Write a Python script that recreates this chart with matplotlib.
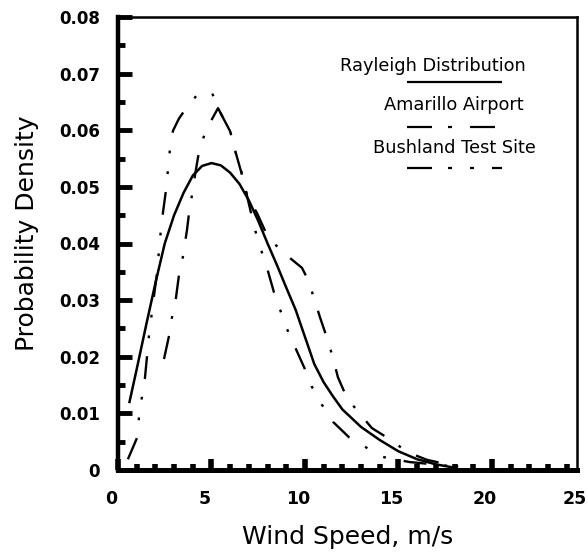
import matplotlib
matplotlib.use("Agg")
import matplotlib.pyplot as plt
from matplotlib.lines import Line2D
from matplotlib.transforms import ScaledTranslation, blended_transform_factory

plt.rcParams['font.family'] = ['DejaVu Sans']
plt.rcParams['lines.scale_dashes'] = False

# ---------------- data ----------------
wind_rayleigh = [0.6, 1.0, 1.5, 2.0, 2.5, 3.0, 3.5, 4.0, 4.5, 5.0, 5.5, 6.0, 6.5, 7.0,
                 7.5, 8.0, 8.5, 9.0, 9.5, 10.0, 10.5, 11.0, 11.5, 12.0, 13.0, 14.0,
                 15.0, 16.0, 17.0, 18.0]
pdf_rayleigh = [0.0118, 0.0178, 0.0255, 0.0330, 0.0400, 0.0450, 0.0489, 0.0520, 0.0537,
                0.0542, 0.0538, 0.0525, 0.0505, 0.0476, 0.0440, 0.0400, 0.0362, 0.0322,
                0.0283, 0.0235, 0.0187, 0.0155, 0.0130, 0.0107, 0.0076, 0.0053, 0.0033,
                0.0019, 0.0010, 0.0004]

wind_amarillo = [2.46, 2.73, 2.89, 3.10, 3.26, 3.48, 3.69, 3.80, 3.96, 4.12, 4.33, 4.65,
                 5.00, 5.35, 6.00, 6.30, 6.60, 6.90, 7.43, 7.97, 8.66, 9.47, 9.84, 10.16,
                 10.48, 10.80, 11.18, 11.50, 11.76, 12.25, 12.89, 13.58, 14.60, 15.45,
                 16.52, 17.33, 18.30]
pdf_amarillo = [0.0196, 0.0237, 0.0270, 0.0304, 0.0344, 0.0378, 0.0424, 0.0454, 0.0486,
                0.0521, 0.0562, 0.0595, 0.0618, 0.0639, 0.0598, 0.0560, 0.0525, 0.0485,
                0.0454, 0.0415, 0.0389, 0.0367, 0.0357, 0.0336, 0.0304, 0.0270, 0.0233,
                0.0198, 0.0164, 0.0127, 0.0101, 0.0074, 0.0053, 0.0032, 0.0018, 0.0012,
                0.0005]

wind_bushland = [0.53, 1.02, 1.12, 1.28, 1.44, 1.66, 1.93, 2.09, 2.25, 2.41, 2.57, 2.78,
                 2.94, 3.25, 3.58, 4.22, 4.65, 5.03, 5.35, 6.00, 6.30, 6.63, 6.95, 7.33,
                 7.65, 7.97, 8.34, 8.66, 9.04, 9.47, 10.00, 10.37, 10.91, 11.50, 12.35,
                 13.21, 14.17, 15.60, 17.20, 18.30]
pdf_bushland = [0.0019, 0.0057, 0.0092, 0.0129, 0.0162, 0.0238, 0.0309, 0.0348, 0.0410,
                0.0456, 0.0495, 0.0567, 0.0599, 0.0620, 0.0636, 0.0662, 0.0668, 0.0666,
                0.0639, 0.0598, 0.0560, 0.0523, 0.0477, 0.0424, 0.0389, 0.0357, 0.0314,
                0.0284, 0.0249, 0.0217, 0.0178, 0.0147, 0.0115, 0.0085, 0.0058, 0.0041,
                0.0023, 0.0014, 0.0009, 0.0005]

x_ticks = [0, 5, 10, 15, 20, 25]
x_tick_labels = ['0', '5', '10', '15', '20', '25']
y_ticks = [0, 0.01, 0.02, 0.03, 0.04, 0.05, 0.06, 0.07, 0.08]
y_tick_labels = ['0', '0.01', '0.02', '0.03', '0.04', '0.05', '0.06', '0.07', '0.08']
series_names = ['Rayleigh Distribution', 'Amarillo Airport', 'Bushland Test Site']

# ---------------- figure ----------------
W, H = 588, 554
fig = plt.figure(figsize=(W / 100, H / 100), dpi=100)
ax = fig.add_axes([118 / W, 1 - 470 / H, (577 - 118) / W, (470 - 17) / H])

ax.plot(wind_rayleigh, pdf_rayleigh, color='black', lw=1.8, solid_capstyle='butt')
ax.plot(wind_amarillo, pdf_amarillo, color='black', lw=1.7,
        dashes=(17, 12.5, 2, 12.5))
ax.plot(wind_bushland, pdf_bushland, color='black', lw=1.7,
        dashes=(16.5, 13, 2, 13, 2, 13))

ax.set_xlim(0, 24.55)
ax.set_ylim(0, 0.08)

ax.set_xticks(x_ticks[:-1])
ax.set_xticks(range(0, 25), minor=True)
ax.set_xticklabels([])
ax.set_yticks(y_ticks)
ax.set_yticks([i * 0.005 for i in range(17)], minor=True)
ax.set_yticklabels(y_tick_labels, fontsize=12, fontweight='bold')

ax.tick_params(axis='both', which='both', direction='in', top=False, right=False,
               color='black')
ax.tick_params(axis='y', which='major', length=10, width=3.5, pad=13)
ax.tick_params(axis='y', which='minor', length=5, width=3.5)
ax.tick_params(axis='x', which='major', length=8, width=4)
ax.tick_params(axis='x', which='minor', length=4, width=4)

ax.spines['left'].set_linewidth(3.2)
ax.spines['bottom'].set_linewidth(3.6)
ax.spines['top'].set_linewidth(1.8)
ax.spines['right'].set_linewidth(1.8)

# x tick labels (drawn as text, slightly left of the ticks as in the scan)
trans = blended_transform_factory(ax.transData, ax.transAxes) + \
    ScaledTranslation(-7 / 100, 0, fig.dpi_scale_trans)
for xv, lab in zip(x_ticks[:-1], x_tick_labels[:-1]):
    ax.text(xv, -0.045, lab, transform=trans, ha='center', va='top',
            fontsize=12.5, fontweight='bold', clip_on=False)
# last label sits at the right edge of the picture
fig.text(587 / W, 1 - (470 + 0.045 * 453) / H, x_tick_labels[-1], ha='right', va='top',
         fontsize=12.5, fontweight='bold')

# axis titles
fig.text(348 / W, 1 - 537 / H, 'Wind Speed, m/s', ha='center', va='center', fontsize=18)
fig.text(27 / W, 1 - 233 / H, 'Probability Density', ha='center', va='center',
         fontsize=18, rotation=90)

# legend (text above sample line)
def seg(x0, x1, y):
    fig.add_artist(Line2D([x0 / W, x1 / W], [1 - y / H, 1 - y / H],
                          transform=fig.transFigure, color='black', lw=1.6,
                          solid_capstyle='butt'))

fig.text(433 / W, 1 - 71 / H, series_names[0], ha='center', va='baseline', fontsize=12.8)
seg(407, 502, 82)
fig.text(454 / W, 1 - 110 / H, series_names[1], ha='center', va='baseline', fontsize=12.8)
seg(407, 432, 127); seg(448, 452, 127); seg(470, 495, 127)
fig.text(454 / W, 1 - 153 / H, series_names[2], ha='center', va='baseline', fontsize=12.8)
seg(407, 432, 168); seg(448, 452, 168); seg(470, 474, 168); seg(492, 502, 168)

fig.savefig('out.png', dpi=100)
